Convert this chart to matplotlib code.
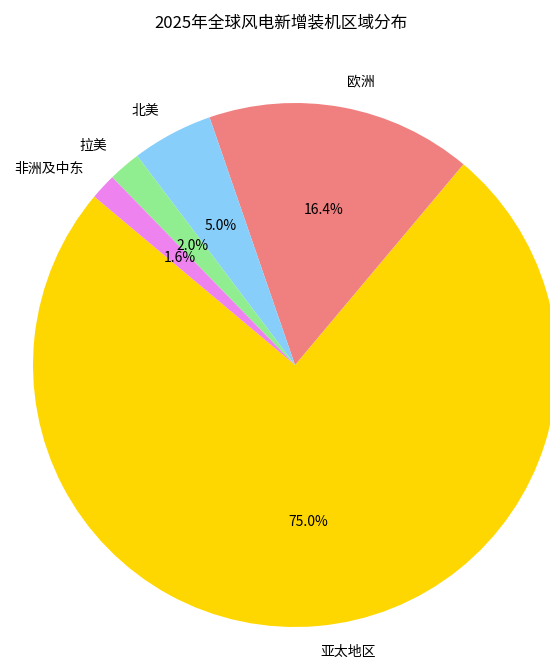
import matplotlib
matplotlib.use('Agg')
import matplotlib.pyplot as plt

plt.rcParams['font.family'] = ['Noto Sans CJK SC', 'DejaVu Sans']

regions = ['亚太地区', '欧洲', '北美', '拉美', '非洲及中东']
shares = [75.0, 16.4, 5.0, 2.0, 1.6]
colors = ['gold', 'lightcoral', 'lightskyblue', 'lightgreen', 'violet']

fig = plt.figure(figsize=(5.5, 6.58), dpi=100)
# pie is big enough to run past the right edge
r = 262
side = 2.5 * r
cx, cy = 295, 658 - 365
ax = fig.add_axes([(cx - side / 2) / 550, (cy - side / 2) / 658, side / 550, side / 658])

ax.pie(shares, labels=regions, colors=colors, autopct='%1.1f%%', startangle=140,
       textprops={'fontsize': 10})
ax.set_xlim(-1.25, 1.25)
ax.set_ylim(-1.25, 1.25)
ax.set_aspect('equal')

fig.text(281 / 550, 1 - 23 / 658, '2025年全球风电新增装机区域分布', ha='center', va='center', fontsize=12)

fig.savefig('out.png', dpi=100)
